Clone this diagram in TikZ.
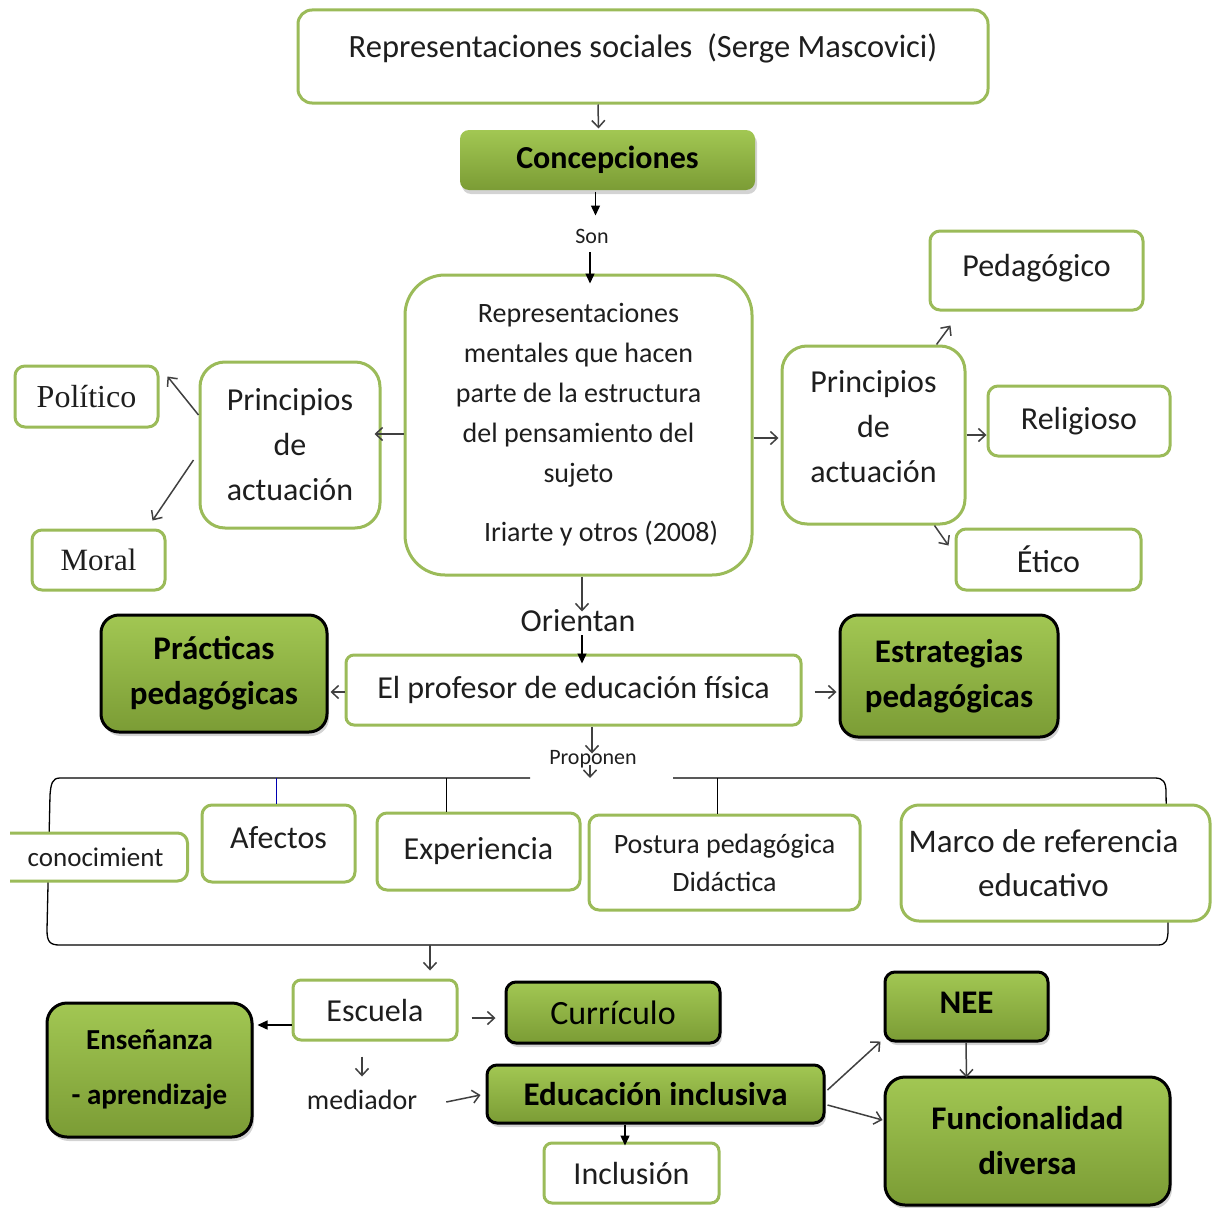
\documentclass[tikz,border=0pt]{standalone}
\usepackage{fontspec}
\setmainfont{Carlito}
\newfontfamily\serifmap{Liberation Serif}
\usepackage{xcolor}
\usetikzlibrary{arrows.meta,calc,shadows,positioning}
\definecolor{grline}{HTML}{9BBB59}
\definecolor{gtop}{HTML}{A2C753}
\definecolor{gbot}{HTML}{7B9C35}
\definecolor{txt}{HTML}{1E1E1E}
\newcommand{\fsz}[2]{\fontsize{#1}{#2}\selectfont}
\tikzset{
  wbox/.style={draw=grline, line width=3pt, rounded corners=10pt, fill=white, align=center, text=txt, inner sep=2pt, font=\fsz{32}{45}},
  gbox/.style={draw=black, line width=3pt, rounded corners=14pt, top color=gtop, bottom color=gbot, align=center, text=black, inner sep=2pt, font=\bfseries\fsz{33}{45}, drop shadow={shadow xshift=2pt,shadow yshift=-4pt,opacity=.35}},
  lbl/.style={text=txt, inner sep=1pt},
  oarr/.style={draw=black!75, line width=1.5pt, -{Straight Barb[length=7pt,width=13pt]}},
  sarr/.style={draw=black, line width=1.4pt, -{Triangle[length=10pt,width=9pt]}},
}

\begin{document}
\begin{tikzpicture}[x=1pt,y=-1pt]
    \useasboundingbox (0,0) rectangle (1212,1207);

    % Top
    \node[wbox, minimum width=690pt, minimum height=93pt, rounded corners=14pt, text depth=22pt, font=\fsz{32.5}{38}] (top) at (643,56.5) {Representaciones sociales\ \ (Serge Mascovici)};
    \node[gbox, draw=none, minimum width=295pt, minimum height=60pt, rounded corners=9pt, font=\bfseries\fsz{32}{38}] (conc) at (607.5,160) {Concepciones};
    \node[lbl, font=\fsz{22}{26}] (son) at (592,236) {Son};

    % Center
    \node[wbox, minimum width=347pt, minimum height=300pt, rounded corners=40pt, font=\fsz{28}{40}] (rep) at (578.5,425) {Representaciones\\mentales que hacen\\parte de la estructura\\del pensamiento del\\sujeto\\[19pt]\hspace*{45pt}Iriarte y otros (2008)};

    % Principios de actuacion
    \node[wbox, minimum width=180pt, minimum height=166pt, rounded corners=25pt] (pl) at (290,445) {Principios\\de\\actuación};
    \node[wbox, minimum width=183pt, minimum height=178pt, rounded corners=25pt, text depth=18pt] (pr) at (873.5,435) {Principios\\de\\actuación};
    \node[wbox, minimum width=143pt, minimum height=61pt, font=\serifmap\fsz{32}{38}] (pol) at (86.5,396.5) {Político};
    \node[wbox, minimum width=133pt, minimum height=60pt, font=\serifmap\fsz{31}{38}] (mor) at (98.5,560) {Moral};
    \node[wbox, minimum width=213pt, minimum height=79pt, text depth=11pt] (ped) at (1036.5,270.5) {Pedagógico};
    \node[wbox, minimum width=182pt, minimum height=70pt] (rel) at (1079,421) {Religioso};
    \node[wbox, minimum width=185pt, minimum height=61pt] (eti) at (1048.5,559.5) {Ético};

    % Profesor
    \node[lbl, font=\fsz{32}{38}] (ori) at (578,621) {Orientan};
    \node[wbox, minimum width=455pt, minimum height=70pt, rounded corners=8pt] (prof) at (573.5,690) {El profesor de educación física};
    \node[gbox, minimum width=226pt, minimum height=117pt, rounded corners=18pt] (prac) at (214,673.5) {Prácticas\\pedagógicas};
    \node[gbox, minimum width=218pt, minimum height=122pt, rounded corners=18pt] (estr) at (949,676) {Estrategias\\pedagógicas};
    \node[lbl, font=\fsz{22}{26}] (prop) at (593,759) {Proponen};

    % Bracket
    \coordinate (brtop) at (590,778);
    \coordinate (brbot) at (430,945);
    \draw[line width=1.3pt] (530,778) -- (60,778) .. controls (52,778) and (51,784) .. (50,795) -- (47,930) .. controls (47,942) and (50,945) .. (60,945) -- (1158,945) .. controls (1166,945) and (1168,940) .. (1168,930) -- (1166,792) .. controls (1166,782) and (1163,778) .. (1155,778) -- (673,778);

    \begin{scope}
        \clip (10,800) rectangle (300,900);
        \node[wbox, minimum width=200pt, minimum height=48pt, anchor=east, font=\fsz{27}{32}] (con) at (189,857) {\hspace*{16pt}conocimient};
    \end{scope}
    \node[wbox, minimum width=153pt, minimum height=77pt, text depth=12pt] (afe) at (278.5,843.5) {Afectos};
    \node[wbox, minimum width=203pt, minimum height=77pt] (exp) at (478.5,851.5) {Experiencia};
    \node[wbox, minimum width=271pt, minimum height=95pt, font=\fsz{28}{38}] (pos) at (724.5,862.5) {Postura pedagógica\\Didáctica};
    \node[wbox, minimum width=309pt, minimum height=116pt, rounded corners=18pt, font=\fsz{33}{44}] (mar) at (1055.5,863) {Marco de referencia\hspace*{24pt}\\educativo\hspace*{24pt}};
    \coordinate (tk1) at ($(exp.north)+(-32,0)$);
    \coordinate (tk2) at ($(pos.north)+(-7,0)$);
    \draw[blue!70!black, line width=0.8pt] (afe.north -| 276,0) -- (276,778);
    \draw[line width=1.3pt] (tk1) -- (tk1 |- brtop);
    \draw[line width=1.3pt] (tk2) -- (tk2 |- brtop);

    % Bottom
    \node[wbox, minimum width=164pt, minimum height=60pt, rounded corners=8pt] (esc) at (375,1010) {Escuela};
    \node[gbox, minimum width=214pt, minimum height=61pt, rounded corners=10pt, font=\fsz{34}{40}] (cur) at (613,1012.5) {Currículo};
    \node[gbox, minimum width=205pt, minimum height=134pt, rounded corners=20pt, font=\bfseries\fsz{29}{55}] (ens) at (149.5,1070) {Enseñanza\\- aprendizaje};
    \node[lbl, font=\fsz{28}{32}] (med) at (362,1100) {mediador};
    \node[gbox, minimum width=337pt, minimum height=58pt, rounded corners=10pt] (edu) at (655.5,1094) {Educación inclusiva};
    \node[wbox, minimum width=175pt, minimum height=60pt, rounded corners=8pt] (inc) at (631.5,1173) {Inclusión};
    \node[gbox, minimum width=163pt, minimum height=69pt, rounded corners=10pt, text depth=8pt] (nee) at (966.5,1006.5) {NEE};
    \node[gbox, minimum width=285pt, minimum height=128pt, rounded corners=20pt] (fun) at (1027.5,1141) {Funcionalidad\\diversa};

    % Connectors
    \draw[oarr] ($(top.south)+(-45,0)$) -- ($(conc.north)+(-9,0)$);
    \draw[sarr, shorten >=1pt] ($(conc.south)+(-12,0)$) -- ($(conc.south)+(-12,25)$);
    \draw[sarr] ($(son.south)+(-2,8)$) -- ($(rep.north)+(11.5,10)$);
    \draw[oarr] ($(rep.west)+(0,9)$) -- ($(pl.east)+(-7,-11)$);
    \draw[oarr] ($(pl.west)+(0,-30)$) -- ($(pol.east)+(8,-20)$);
    \draw[oarr] ($(pl.west)+(-5,15)$) -- ($(mor.north)+(54,-8)$);
    \draw[oarr] ($(rep.east)+(0,13)$) -- ($(pr.west)+(-2,3)$);
    \draw[oarr] ($(pr.north)+(63,0)$) -- ($(ped.south)+(-86,14)$);
    \draw[oarr] (pr.east) -- (pr.east -| rel.west);
    \draw[oarr] ($(pr.south)+(61,0)$) -- ($(eti.west)+(-6,-14)$);
    \draw[oarr] ($(rep.south)+(3.5,0)$) -- ($(rep.south)+(3.5,35)$);
    \draw[sarr] ($(ori.south)+(4,2)$) -- ($(prof.north)+(8.5,10)$);
    \draw[oarr] ($(prof.west)+(0,2)$) -- ($(prac.east)+(2,18.5)$);
    \draw[oarr, shorten <=12pt] ($(prof.east)+(0,2)$) -- ($(estr.west)+(-2,16)$);
    \draw[oarr] ($(prof.south)+(18.5,0)$) -- ($(prof.south)+(18.5,27)$);
    \draw[oarr] ($(prop.south)+(-3,-4)$) -- (brtop);
    \draw[oarr] (brbot) -- ($(esc.north)+(55,-8)$);
    \draw[sarr] ($(esc.west)+(0,15)$) -- ($(ens.east)+(4,-45)$);
    \draw[oarr, shorten <=13pt, shorten >=9pt] ($(esc.east)+(0,8)$) -- ($(cur.west)+(0,5.5)$);
    \draw[oarr] ($(esc.south)+(-13,15)$) -- ($(esc.south)+(-13,35)$);
    \draw[oarr] ($(med.east)+(28,2)$) -- ($(edu.west)+(-5,1)$);
    \draw[sarr] ($(edu.south)+(-30.5,0)$) -- ($(inc.north)+(-6.5,4)$);
    \draw[oarr] ($(edu.east)+(2,-4)$) -- ($(nee.south west)+(-3,-1)$);
    \draw[oarr] ($(edu.east)+(2,11)$) -- ($(fun.west)+(-1,-21)$);
    \draw[oarr] ($(nee.south)+(-0.5,0)$) -- ($(fun.north)+(-61,2)$);
\end{tikzpicture}
\end{document}
